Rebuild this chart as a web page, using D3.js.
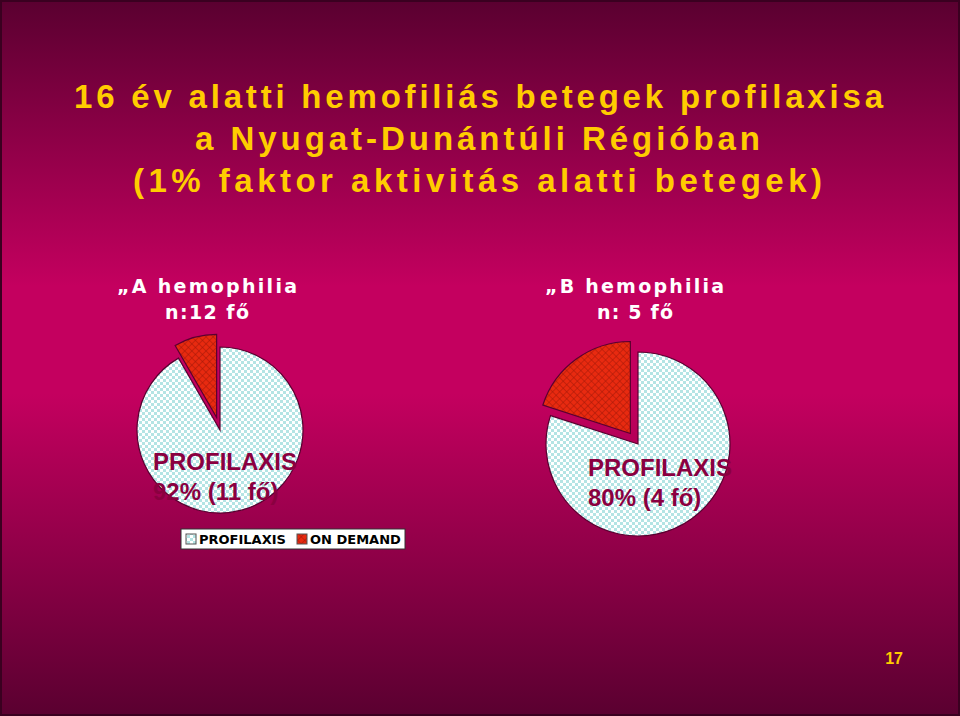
<!DOCTYPE html>
<html><head><meta charset="utf-8">
<script src="https://cdn.jsdelivr.net/npm/d3@7"></script>
<style>body{margin:0;overflow:hidden}</style>
</head><body><div id="chart"></div>
<script>
const categories = ["PROFILAXIS", "ON DEMAND"];
const pieA = [11, 1];
const pieB = [4, 1];
const titleLines = ["16 év alatti hemofiliás betegek profilaxisa", "a Nyugat-Dunántúli Régióban", "(1% faktor aktivitás alatti betegek)"];

const W = 960, H = 716;
const svg = d3.select("#chart").append("svg").attr("width", W).attr("height", H);
const defs = svg.append("defs");
const bg = defs.append("linearGradient").attr("id","bg").attr("x1",0).attr("y1",0).attr("x2",0).attr("y2",1);
[[0,"#5a0030"],[0.4,"#c4005f"],[0.55,"#c4005f"],[1,"#5a0030"]].forEach(([o,c]) => bg.append("stop").attr("offset",o).attr("stop-color",c));
const p1 = defs.append("pattern").attr("id","pat0").attr("width",6).attr("height",6).attr("patternUnits","userSpaceOnUse");
p1.append("rect").attr("width",6).attr("height",6).attr("fill","#ffffff");
p1.append("rect").attr("width",3).attr("height",3).attr("fill","#b4e4e4");
p1.append("rect").attr("x",3).attr("y",3).attr("width",3).attr("height",3).attr("fill","#b4e4e4");
const p2 = defs.append("pattern").attr("id","pat1").attr("width",5).attr("height",5).attr("patternUnits","userSpaceOnUse").attr("patternTransform","rotate(45)");
p2.append("rect").attr("width",5).attr("height",5).attr("fill","#e82a10");
p2.append("path").attr("d","M0,0H5M0,0V5").attr("stroke","#a01808").attr("stroke-width",1);

svg.append("rect").attr("width",W).attr("height",H).attr("fill","url(#bg)");
svg.append("rect").attr("x",1).attr("y",1).attr("width",W-2).attr("height",H-2).attr("fill","none").attr("stroke","#3a0020").attr("stroke-width",2);

const title = svg.append("g").attr("font-family","Liberation Sans, Arial").attr("font-weight","bold").attr("font-size",33).attr("fill","#ffcc00");
[[74,108,809],[195,150,565],[133,192,689]].forEach(([x,y,w],i) =>
  title.append("text").attr("x",x).attr("y",y).attr("textLength",w).attr("lengthAdjust","spacing").text(titleLines[i]));

const sub = svg.append("g").attr("font-family","DejaVu Sans, Verdana").attr("font-weight","bold").attr("font-size",19).attr("fill","#ffffff");
sub.append("text").attr("x",117).attr("y",293).attr("textLength",180).attr("lengthAdjust","spacing").text("„A  hemophilia");
sub.append("text").attr("x",165).attr("y",319).attr("textLength",84).attr("lengthAdjust","spacing").text("n:12 fő");
sub.append("text").attr("x",545).attr("y",293).attr("textLength",179).attr("lengthAdjust","spacing").text("„B  hemophilia");
sub.append("text").attr("x",597).attr("y",319).attr("textLength",76).attr("lengthAdjust","spacing").text("n: 5 fő");

const pie = d3.pie().sort(null);
function drawPie(vals, cx, cy, r, off, pct, cnt, lx, ly) {
  const arc = d3.arc().innerRadius(0).outerRadius(r);
  const g = svg.append("g").attr("transform",`translate(${cx},${cy})`);
  pie(vals).forEach((d,i) => {
    let dx = 0, dy = 0;
    if (i == 1) { const m = (d.startAngle+d.endAngle)/2; dx = Math.sin(m)*off; dy = -Math.cos(m)*off; }
    g.append("path").attr("d",arc(d)).attr("transform",`translate(${dx},${dy})`)
      .attr("fill",`url(#pat${i})`).attr("stroke","#5a0030").attr("stroke-width",1.2);
  });
  const t = svg.append("g").attr("font-family","Liberation Sans, Arial").attr("font-weight","bold").attr("font-size",24).attr("fill","#8a0040");
  t.append("text").attr("x",lx).attr("y",ly).text(categories[0]);
  t.append("text").attr("x",lx).attr("y",ly+30).text(`${pct}% (${cnt} fő)`);
}
drawPie(pieA, 220, 430, 83, 13, Math.round(pieA[0]/d3.sum(pieA)*100), pieA[0], 153, 470);
drawPie(pieB, 638, 444, 92, 13, Math.round(pieB[0]/d3.sum(pieB)*100), pieB[0], 588, 476);

const lg = svg.append("g").attr("transform","translate(181,529)");
lg.append("rect").attr("width",224).attr("height",20).attr("fill","#fff").attr("stroke","#333");
categories.forEach((c,i) => {
  const x = i==0 ? 5 : 116;
  lg.append("rect").attr("x",x).attr("y",5).attr("width",10).attr("height",10).attr("fill",`url(#pat${i})`).attr("stroke","#555");
  lg.append("text").attr("x",x+13).attr("y",15).attr("font-family","DejaVu Sans, Verdana").attr("font-weight","bold").attr("font-size",13).attr("fill","#000").text(c);
});

svg.append("text").attr("x",903).attr("y",664).attr("text-anchor","end").attr("font-family","Liberation Sans, Arial").attr("font-weight","bold").attr("font-size",16).attr("fill","#ffcc00").text("17");
</script></body></html>
